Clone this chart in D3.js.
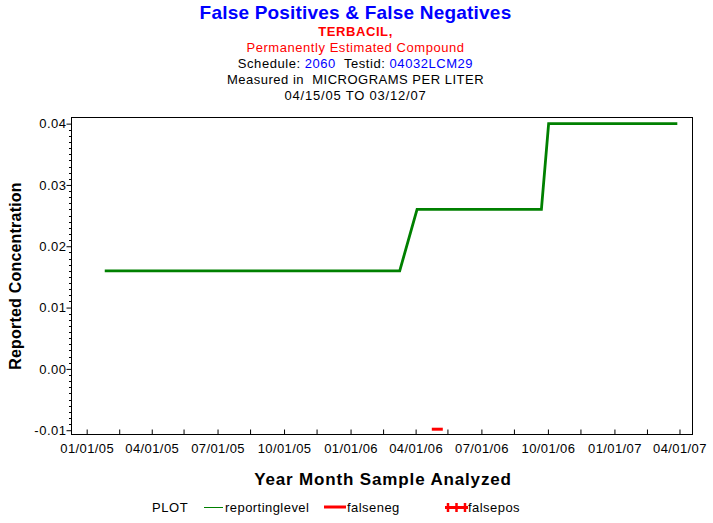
<!DOCTYPE html>
<html>
<head>
<meta charset="utf-8">
<script src="https://cdn.jsdelivr.net/npm/d3@7"></script>
<style>
  html, body { margin: 0; padding: 0; background: #fff; }
  svg { display: block; }
  text { font-family: "Liberation Sans", Arial, sans-serif; }
</style>
</head>
<body>
<svg id="chart" width="713" height="523"></svg>
<script>
// ---- data ----
const reportingDates = ["2005-01-26", "2006-03-10", "2006-04-03", "2006-09-22", "2006-10-02", "2007-03-29"];
const reportingValues = [0.016, 0.016, 0.026, 0.026, 0.04, 0.04];
const falsenegDates = ["2006-05-01"];
const falsenegValues = [-0.01];
const xTickDates = ["2005-01-01","2005-02-15","2005-04-01","2005-05-15","2005-07-01","2005-08-15","2005-10-01","2005-11-15",
                    "2006-01-01","2006-02-15","2006-04-01","2006-05-15","2006-07-01","2006-08-15","2006-10-01","2006-11-15",
                    "2007-01-01","2007-02-15","2007-04-01"];
const xTickLabels = ["01/01/05","","04/01/05","","07/01/05","","10/01/05","","01/01/06","","04/01/06","","07/01/06","","10/01/06","","01/01/07","","04/01/07"];
const yTickValues = [-0.01, 0.00, 0.01, 0.02, 0.03, 0.04];
const yTickLabels = ["-0.01", "0.00", "0.01", "0.02", "0.03", "0.04"];
const xDomain = ["2004-12-11", "2007-04-19"];
const yDomain = [-0.0107, 0.0410];

const parse = d3.utcParse("%Y-%m-%d");
const svg = d3.select("#chart");
const W = 713, H = 523;
const plot = { left: 71.5, right: 692.5, top: 117.5, bottom: 434.5 };

const x = d3.scaleUtc().domain(xDomain.map(parse)).range([plot.left, plot.right]);
const y = d3.scaleLinear().domain(yDomain).range([plot.bottom, plot.top]);

// ---- titles ----
const cx = W / 2 - 1;
svg.append("text").attr("x", cx).attr("y", 19).attr("text-anchor", "middle")
  .attr("font-size", 19).attr("font-weight", "bold").attr("fill", "#0000ff").attr("letter-spacing", 0.2)
  .text("False Positives & False Negatives");
svg.append("text").attr("x", cx).attr("y", 35.5).attr("text-anchor", "middle")
  .attr("font-size", 13).attr("font-weight", "bold").attr("fill", "#ff0000").attr("letter-spacing", 0.6)
  .text("TERBACIL,");
svg.append("text").attr("x", cx).attr("y", 51.5).attr("text-anchor", "middle")
  .attr("font-size", 13).attr("fill", "#ff0000").attr("letter-spacing", 0.55)
  .text("Permanently Estimated Compound");
const sched = svg.append("text").attr("x", cx).attr("y", 67.5).attr("text-anchor", "middle")
  .attr("font-size", 13).attr("fill", "#000").attr("letter-spacing", 0.55);
sched.append("tspan").text("Schedule: ");
sched.append("tspan").attr("fill", "#0000ff").text("2060");
sched.append("tspan").text("\u00a0 Testid: ");
sched.append("tspan").attr("fill", "#0000ff").text("04032LCM29");
svg.append("text").attr("x", cx).attr("y", 83.5).attr("text-anchor", "middle")
  .attr("font-size", 13).attr("fill", "#000").attr("letter-spacing", 0.5)
  .text("Measured in \u00a0MICROGRAMS PER LITER");
svg.append("text").attr("x", cx).attr("y", 100).attr("text-anchor", "middle")
  .attr("font-size", 13).attr("fill", "#000").attr("letter-spacing", 0.8)
  .text("04/15/05 TO 03/12/07");

// ---- frame ----
svg.append("rect").attr("x", plot.left).attr("y", plot.top)
  .attr("width", plot.right - plot.left).attr("height", plot.bottom - plot.top)
  .attr("fill", "none").attr("stroke", "#000").attr("stroke-width", 1);

// ---- y axis ----
const yAxisG = svg.append("g").attr("transform", `translate(${plot.left},0)`);
const yAxis = d3.axisLeft(y).tickValues(yTickValues).tickSize(5)
  .tickFormat((d, i) => yTickLabels[i]);
yAxisG.call(yAxis);
yAxisG.select(".domain").remove();
yAxisG.selectAll("line").attr("stroke", "#000");
yAxisG.selectAll("text").attr("font-size", 13).attr("letter-spacing", 0.5)
  .attr("font-family", "Liberation Sans, Arial, sans-serif").attr("fill", "#000").attr("x", -5);
// minor y ticks
const yMinor = d3.range(-10, 41).map(v => v / 1000).filter(v => Math.round(v * 1000) % 10 !== 0);
svg.append("g").selectAll("line").data(yMinor).join("line")
  .attr("x1", plot.left - 2.5).attr("x2", plot.left)
  .attr("y1", d => Math.round(y(d)) + 0.5).attr("y2", d => Math.round(y(d)) + 0.5)
  .attr("stroke", "#000");

// ---- x axis (ticks point inward) ----
const xAxisG = svg.append("g").attr("transform", `translate(0,${plot.bottom})`);
const xAxis = d3.axisBottom(x).tickValues(xTickDates.map(parse)).tickSize(-5)
  .tickFormat((d, i) => xTickLabels[i]);
xAxisG.call(xAxis);
xAxisG.select(".domain").remove();
xAxisG.selectAll("line").attr("stroke", "#000");
xAxisG.selectAll("text").attr("font-size", 13).attr("letter-spacing", 0.4)
  .attr("font-family", "Liberation Sans, Arial, sans-serif").attr("fill", "#000")
  .attr("y", 9).attr("dy", "0.71em");

// ---- axis titles ----
svg.append("text").attr("transform", `translate(21,${(plot.top + plot.bottom) / 2}) rotate(-90)`)
  .attr("text-anchor", "middle").attr("font-size", 16).attr("font-weight", "bold").attr("letter-spacing", 0.2)
  .text("Reported Concentration");
svg.append("text").attr("x", (plot.left + plot.right) / 2 + 1).attr("y", 485)
  .attr("text-anchor", "middle").attr("font-size", 17).attr("font-weight", "bold").attr("letter-spacing", 0.85)
  .text("Year Month Sample Analyzed");

// ---- data marks ----
const rep = reportingDates.map((d, i) => ({ d: parse(d), v: reportingValues[i] }));
svg.append("path").datum(rep)
  .attr("d", d3.line().x(p => x(p.d)).y(p => y(p.v)))
  .attr("fill", "none").attr("stroke", "#008000").attr("stroke-width", 2.8);

const fn = falsenegDates.map((d, i) => ({ d: parse(d), v: falsenegValues[i] }));
svg.append("g").selectAll("line").data(fn).join("line")
  .attr("x1", p => x(p.d) - 5.5).attr("x2", p => x(p.d) + 5.5)
  .attr("y1", p => y(p.v) - 1).attr("y2", p => y(p.v) - 1)
  .attr("stroke", "#ff0000").attr("stroke-width", 3);

// ---- legend ----
const ly = 512;
const lg = svg.append("g");
lg.append("text").attr("x", 152).attr("y", ly).attr("font-size", 13).attr("letter-spacing", 0.6).text("PLOT");
lg.append("line").attr("x1", 204).attr("x2", 223).attr("y1", 507.5).attr("y2", 507.5)
  .attr("stroke", "#008000").attr("stroke-width", 1);
lg.append("text").attr("x", 225).attr("y", ly).attr("font-size", 13).attr("letter-spacing", 0.45).text("reportinglevel");
lg.append("line").attr("x1", 324).attr("x2", 346).attr("y1", 507).attr("y2", 507)
  .attr("stroke", "#ff0000").attr("stroke-width", 3);
lg.append("text").attr("x", 347).attr("y", ly).attr("font-size", 13).attr("letter-spacing", 0.45).text("falseneg");
lg.append("line").attr("x1", 445).attr("x2", 468).attr("y1", 507.5).attr("y2", 507.5)
  .attr("stroke", "#ff0000").attr("stroke-width", 3);
[448, 456.5, 465].forEach(px => {
  lg.append("line").attr("x1", px).attr("x2", px).attr("y1", 503).attr("y2", 512)
    .attr("stroke", "#ff0000").attr("stroke-width", 2.5);
});
lg.append("text").attr("x", 468).attr("y", ly).attr("font-size", 13).attr("letter-spacing", 0.45).text("falsepos");
</script>
</body>
</html>
